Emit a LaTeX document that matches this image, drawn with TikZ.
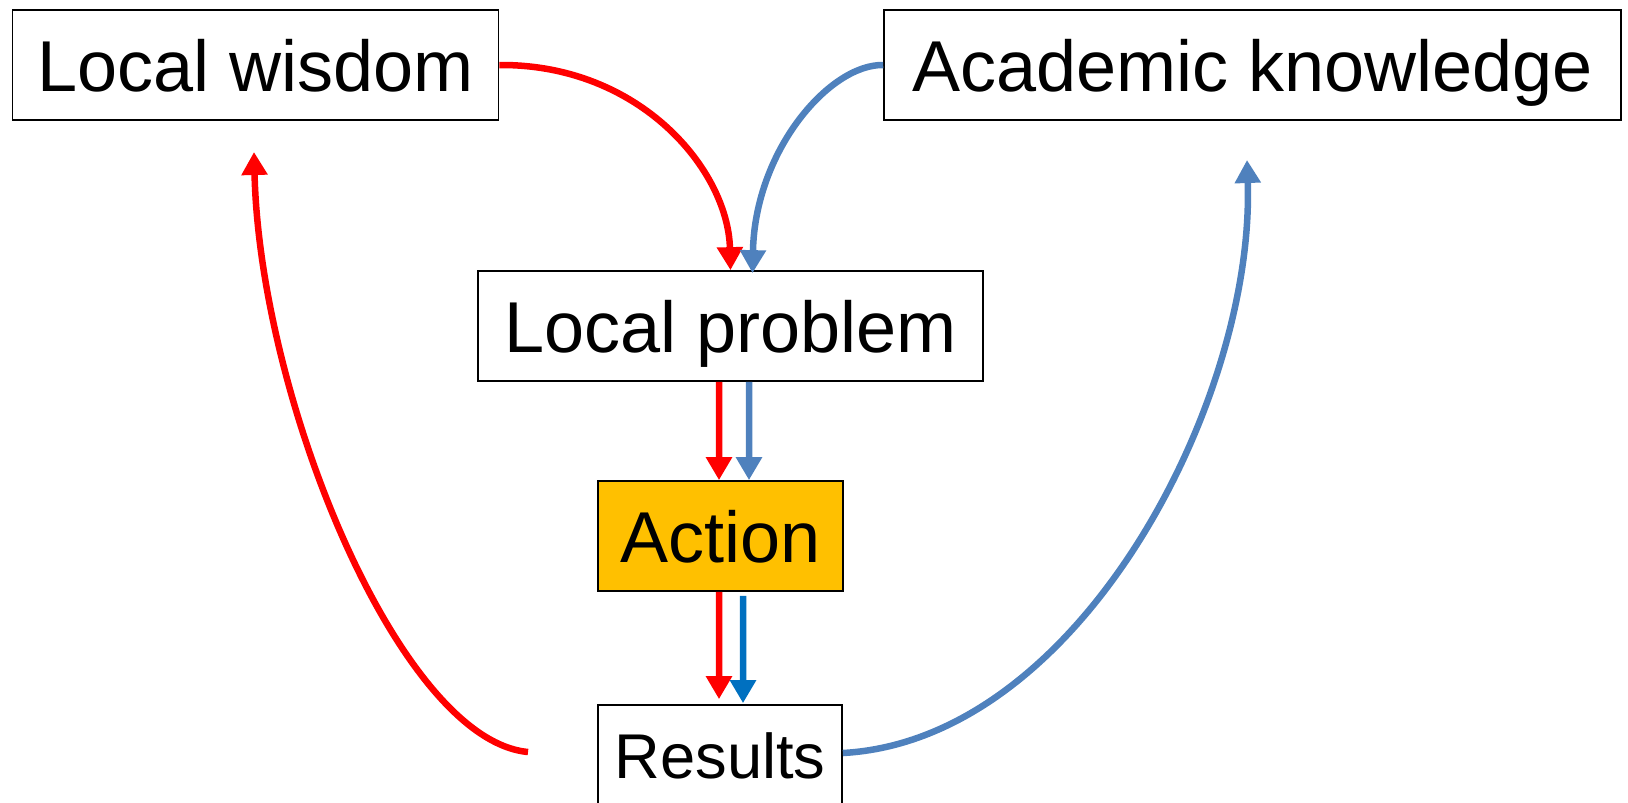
\documentclass[tikz,border=0pt]{standalone}
\usepackage{fontspec}
\setmainfont{Liberation Sans}
\usetikzlibrary{positioning,arrows.meta}
\definecolor{linkred}{HTML}{FF0000}
\definecolor{linkblue}{HTML}{4F81BD}
\definecolor{deepblue}{HTML}{0070C0}
\definecolor{actionfill}{HTML}{FFC000}
\begin{document}
\begin{tikzpicture}[x=0.02cm,y=-0.02cm,>={Triangle[width=0.5cm,length=0.46cm]},
  box/.style={draw,line width=1pt,inner sep=0pt,minimum height=2.2cm,text depth=0pt,font=\fontsize{41}{49}\selectfont},
  link/.style={->,line width=3.7pt}]
  \useasboundingbox (0,0) rectangle (1628,802);
  \node[box,minimum width=9.72cm] (wisdom) at (255.5,65) {Local wisdom};
  \node[box,minimum width=14.74cm] (academic) at (1252.5,65) {Academic knowledge};
  \node[box,minimum width=10.1cm] (problem) at (730.5,326) {Local problem};
  \node[box,minimum width=4.9cm,fill=actionfill] (action) at (720.5,536) {Action};
  \node[box,minimum width=4.88cm,minimum height=2.04cm,font=\fontsize{36}{43}\selectfont] (results) at (720,756) {Results};
  \coordinate (redtail) at (528,752);
  \coordinate (wisdomin) at (254,152);
  \coordinate (academicin) at (1247,160);
  \draw[link,linkred] (wisdom.east) .. controls (640,64) and (728,170) .. (problem.north);
  \draw[link,linkblue] (academic.west) .. controls (830,64) and (755,150) .. ([xshift=0.44cm,yshift=-0.06cm]problem.north);
  \draw[link,linkred] ([xshift=-0.23cm]problem.south) -- ([xshift=-0.03cm]action.north);
  \draw[link,linkblue] ([xshift=0.37cm]problem.south) -- ([xshift=0.57cm]action.north);
  \draw[link,linkred] ([xshift=-0.03cm]action.south) -- ([xshift=-0.02cm,yshift=0.1cm]results.north);
  \draw[link,deepblue] ([xshift=0.45cm,yshift=-0.08cm]action.south) -- ([xshift=0.46cm,yshift=0.02cm]results.north);
  \draw[link,linkred] (redtail) .. controls (400,740) and (260,400) .. (wisdomin);
  \draw[link,linkblue] ([yshift=0.06cm]results.east) .. controls (1080,740) and (1255,400) .. (academicin);
\end{tikzpicture}
\end{document}
